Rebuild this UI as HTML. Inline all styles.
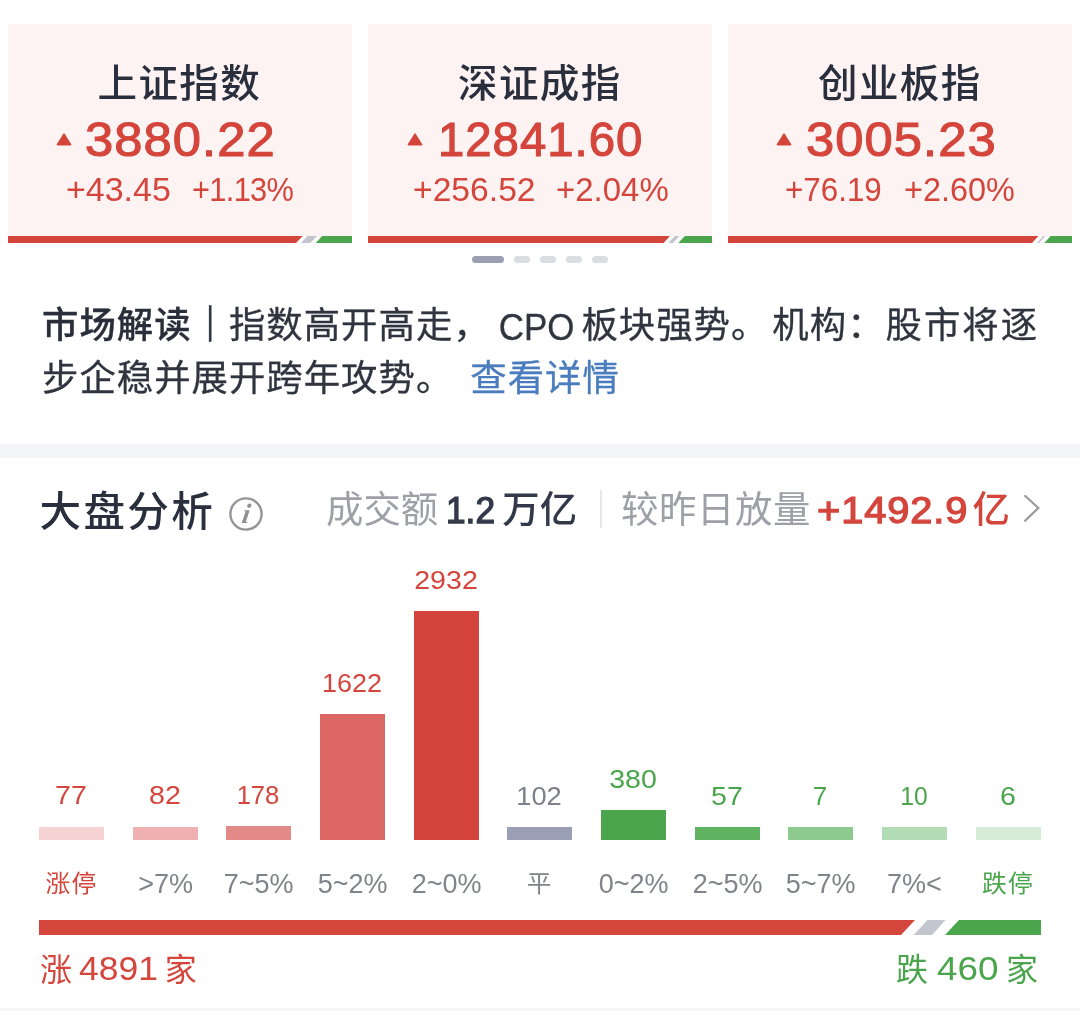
<!DOCTYPE html>
<html lang="zh-CN"><head><meta charset="utf-8"><title>大盘分析</title>
<style>
html,body{margin:0;padding:0;background:#fff;}
body{width:1080px;height:1011px;position:relative;overflow:hidden;font-family:"Liberation Sans","Noto Sans CJK SC",sans-serif;}
div,svg{position:absolute;white-space:nowrap;line-height:1;}
.card{top:24px;width:344px;height:219px;background:#fef3f3;}
.ct{top:60px;font-size:39.6px;letter-spacing:1.3px;font-weight:500;color:#2a2f3d;top:36.3px;font-family:"Noto Sans CJK SC",sans-serif;transform:scaleY(0.965);transform-origin:50% 60%;}
.tri{top:108.5px;}
.cn{top:91px;font-size:48.5px;color:#d4453c;-webkit-text-stroke:1.1px #d4453c;transform-origin:0 50%;}
.cc{top:150.4px;font-size:32.4px;color:#d4453c;transform-origin:0 50%;}
.cbar{left:0;top:212px;width:344px;height:7px;background:#fff;}
.cbar svg{left:0;top:0;}
.dot{top:255.5px;height:7.5px;border-radius:4px;background:#dcdde2;width:16px;}
.p1,.p2{left:42px;font-size:36.4px;letter-spacing:1px;-webkit-text-stroke:0.3px #30343f;color:#30343f;font-family:"Liberation Sans","Noto Sans CJK SC",sans-serif;}
.p1{top:307.3px;} .p2{top:360.6px;}
.p1 b{font-weight:500;color:#2a2e3a;}
.pbar{display:inline-block;font-weight:500;transform:translate(0.4px,-0.6px) scaleY(0.97);transform-origin:50% 55%;-webkit-text-stroke:1px #30343f;}
.lat{display:inline-block;margin:0 4.2px 0 5.5px;font-size:37.4px;letter-spacing:0;transform:translateY(1.7px) scaleX(0.935);}
.link{color:#4a7dbe;-webkit-text-stroke:0.3px #4a7dbe;margin-left:17px;}
.band{left:0;top:444px;width:1080px;height:14px;background:#f4f5f8;}
.band2{left:0;top:1008px;width:1080px;height:3px;background:#f4f5f8;}
.h1{left:39.5px;top:487.8px;transform:scaleY(0.975);transform-origin:50% 60%;font-size:41.6px;letter-spacing:2.3px;font-weight:500;color:#2a2f3d;font-family:"Noto Sans CJK SC",sans-serif;}
.hs{top:492px;font-size:37.4px;color:#9ea0a8;}
.hb{color:#33384a;font-weight:500;}
.hr{color:#d4453c;font-weight:500;}
.num{font-family:"Liberation Sans",sans-serif;font-weight:400;font-size:36.2px;display:inline-block;transform-origin:0 50%;-webkit-text-stroke:1.25px currentColor;}
.vdiv{left:600px;top:490px;width:2px;height:38px;background:#e6e7ea;}
.bar{width:65.2px;}
.bv{transform:translateX(-50%) scaleX(1.1);font-size:26px;}
.o{margin:0 -0.075em 0 -0.03em;}
.cn .o{margin:0 -0.06em 0 -0.03em;}
.bl{transform:translateX(-50%);font-size:27px;top:871.2px;}
.bl.cj{transform:translateX(-50%) scaleY(0.95);font-size:24.8px;letter-spacing:1.2px;margin-left:-0.2px;top:872px;}
.ft{top:953.3px;font-size:32px;}
.fd{font-size:33.5px;position:relative;top:-1.5px;display:inline-block;transform-origin:0 50%;}
</style></head><body>

<div class="card" style="left:8px">
  <div class="ct" id="t1" style="left:89.5px">上证指数</div>
  <svg class="tri" id="tri1" style="left:47.5px" width="16" height="13" viewBox="0 0 16 13"><path d="M8 1.2 L14.6 11.6 L1.4 11.6 Z" fill="#d4453c" stroke="#d4453c" stroke-width="1.6" stroke-linejoin="round"/></svg>
  <div class="cn" id="n1" style="left:77.3px;letter-spacing:1.0px;transform:scaleX(1.046)">3880.22</div>
  <div class="cc" id="ca1" style="left:58px;transform:scaleX(1.048)">+43.45</div>
  <div class="cc" id="cb1" style="left:184px;letter-spacing:-0.7px;transform:scaleX(0.95)">+1.13%</div>
  <div class="cbar"><svg width="344" height="7" viewBox="0 0 344 7"><polygon points="0,0 294.6,0 288.1,7 0,7" fill="#d4453c"/><polygon points="299.4,0 309.0,0 302.5,7 292.9,7" fill="#c3c5cf"/><polygon points="314.2,0 344,0 344,7 307.7,7" fill="#4aa54c"/></svg></div>
</div>
<div class="card" style="left:368px">
  <div class="ct" id="t2" style="left:90px">深证成指</div>
  <svg class="tri" id="tri2" style="left:39px" width="16" height="13" viewBox="0 0 16 13"><path d="M8 1.2 L14.6 11.6 L1.4 11.6 Z" fill="#d4453c" stroke="#d4453c" stroke-width="1.6" stroke-linejoin="round"/></svg>
  <div class="cn" id="n2" style="left:70.2px;letter-spacing:1.0px;transform:scaleX(0.976)">12841.60</div>
  <div class="cc" id="ca2" style="left:44.5px;transform:scaleX(1.039)">+256.52</div>
  <div class="cc" id="cb2" style="left:187.7px;letter-spacing:0px;transform:scaleX(1.018)">+2.04%</div>
  <div class="cbar"><svg width="344" height="7" viewBox="0 0 344 7"><polygon points="0,0 302,0 295.5,7 0,7" fill="#d4453c"/><polygon points="306.8,0 311.6,0 305.1,7 300.3,7" fill="#c3c5cf"/><polygon points="316.8,0 344,0 344,7 310.3,7" fill="#4aa54c"/></svg></div>
</div>
<div class="card" style="left:728px">
  <div class="ct" id="t3" style="left:90px">创业板指</div>
  <svg class="tri" id="tri3" style="left:47.5px" width="16" height="13" viewBox="0 0 16 13"><path d="M8 1.2 L14.6 11.6 L1.4 11.6 Z" fill="#d4453c" stroke="#d4453c" stroke-width="1.6" stroke-linejoin="round"/></svg>
  <div class="cn" id="n3" style="left:78.3px;letter-spacing:1.0px;transform:scaleX(1.046)">3005.23</div>
  <div class="cc" id="ca3" style="left:57px;transform:scaleX(0.968)">+76.19</div>
  <div class="cc" id="cb3" style="left:176px;letter-spacing:0px;transform:scaleX(1.001)">+2.60%</div>
  <div class="cbar"><svg width="344" height="7" viewBox="0 0 344 7"><polygon points="0,0 310.5,0 304.0,7 0,7" fill="#d4453c"/><polygon points="315.3,0 317.5,0 311.0,7 308.8,7" fill="#c3c5cf"/><polygon points="322.7,0 344,0 344,7 316.2,7" fill="#4aa54c"/></svg></div>
</div>
<div class="dot" style="left:472px;width:32px;background:#9a9eb1"></div>
<div class="dot" style="left:514px"></div><div class="dot" style="left:540px"></div><div class="dot" style="left:566px"></div><div class="dot" style="left:592px"></div>

<div class="p1" id="p1"><b id="pa">市场解读</b><span id="pbar" class="pbar">｜</span>指数高开高走，<span class="lat" id="pc">CPO</span>板块强势。<span id="pe" style="margin-left:4px">机构</span>：<span id="pf" style="margin-left:1px;letter-spacing:2px">股市将逐</span></div>
<div class="p2" id="p2">步企稳并展开跨年攻势。<span class="link" id="ph">查看详情</span></div>

<div class="band"></div>
<div class="h1" id="h1">大盘分析</div>
<svg id="info" style="left:229px;top:497px" width="35" height="35" viewBox="0 0 35 35"><circle cx="17" cy="17" r="15.6" fill="none" stroke="#949599" stroke-width="2.4"/><text x="0" y="0" transform="translate(15.8 26.2) skewX(-9)" text-anchor="middle" text-rendering="geometricPrecision" font-family="Liberation Serif, serif" font-style="italic" font-weight="bold" font-size="28" fill="#8f9094">i</text></svg>
<div class="hs" id="hs1" style="left:326px">成交额</div>
<div class="hs hb" id="hs2" style="left:446px"><span class="num" id="hs2a" style="transform:scaleX(0.975)">1.2</span><span id="hs2b" style="margin-left:6px">万亿</span></div>
<div class="vdiv"></div>
<div class="hs" id="hs3" style="left:621px;letter-spacing:0.6px">较昨日放量</div>
<div class="hs hr" id="hs4" style="left:817px"><span class="num" id="hs4a" style="letter-spacing:0.8px;transform:scaleX(1.10)">+1492.9</span><span id="hs4b" style="margin-left:18px">亿</span></div>
<svg id="chev" style="left:1020px;top:495px" width="24" height="30" viewBox="0 0 24 30"><path d="M5.3 1 L18.3 13 L5.3 25.6" fill="none" stroke="#9c9da3" stroke-width="2.3" stroke-linecap="square" stroke-linejoin="miter"/></svg>

<div class="bar" style="left:39px;top:826.7px;height:13px;background:#f6d3d3"></div>
<div class="bv" id="bv0" style="left:71.1px;top:782.1px;color:#d4453c;transform:translateX(-50%) scaleX(1.1)">77</div>
<div class="bl cj" id="bl0" style="left:71.6px;color:#d4453c">涨停</div>
<div class="bar" style="left:133px;top:826.7px;height:13px;background:#eeb0b0"></div>
<div class="bv" id="bv1" style="left:165.1px;top:782.1px;color:#d4453c;transform:translateX(-50%) scaleX(1.1)">82</div>
<div class="bl" id="bl1" style="left:165.6px;color:#808389">&gt;7%</div>
<div class="bar" style="left:226px;top:826.2px;height:13.5px;background:#e38a88"></div>
<div class="bv" id="bv2" style="left:258.1px;top:781.6px;color:#d4453c;transform:translateX(-50%) scaleX(0.985)">178</div>
<div class="bl" id="bl2" style="left:258.6px;color:#808389">7~5%</div>
<div class="bar" style="left:320px;top:714.2px;height:125.5px;background:#dc6663"></div>
<div class="bv" id="bv3" style="left:352.1px;top:669.6px;color:#d4453c;transform:translateX(-50%) scaleX(1.035)">1622</div>
<div class="bl" id="bl3" style="left:352.6px;color:#808389">5~2%</div>
<div class="bar" style="left:414px;top:611.2px;height:228.5px;background:#d3453c"></div>
<div class="bv" id="bv4" style="left:446.1px;top:566.6px;color:#d4453c;transform:translateX(-50%) scaleX(1.1)">2932</div>
<div class="bl" id="bl4" style="left:446.6px;color:#808389">2~0%</div>
<div class="bar" style="left:507.3px;top:827.2px;height:12.5px;background:#9a9fb6"></div>
<div class="bv" id="bv5" style="left:539.4px;top:782.6px;color:#7d8189;transform:translateX(-50%) scaleX(1.05)">102</div>
<div class="bl cj" id="bl5" style="left:539.9px;color:#808389">平</div>
<div class="bar" style="left:601px;top:810.2px;height:29.5px;background:#4aa54c"></div>
<div class="bv" id="bv6" style="left:633.1px;top:765.6px;color:#4aa54c;transform:translateX(-50%) scaleX(1.1)">380</div>
<div class="bl" id="bl6" style="left:633.6px;color:#808389">0~2%</div>
<div class="bar" style="left:695px;top:827.2px;height:12.5px;background:#5fb361"></div>
<div class="bv" id="bv7" style="left:727.1px;top:782.6px;color:#4aa54c;transform:translateX(-50%) scaleX(1.1)">57</div>
<div class="bl" id="bl7" style="left:727.6px;color:#808389">2~5%</div>
<div class="bar" style="left:788px;top:827.2px;height:12.5px;background:#8ccb8d"></div>
<div class="bv" id="bv8" style="left:820.1px;top:782.6px;color:#4aa54c;transform:translateX(-50%) scaleX(1.0)">7</div>
<div class="bl" id="bl8" style="left:820.6px;color:#808389">5~7%</div>
<div class="bar" style="left:881.8px;top:827.2px;height:12.5px;background:#b2dcb3"></div>
<div class="bv" id="bv9" style="left:913.9px;top:782.6px;color:#4aa54c;transform:translateX(-50%) scaleX(0.95)">10</div>
<div class="bl" id="bl9" style="left:914.4px;color:#808389">7%&lt;</div>
<div class="bar" style="left:975.7px;top:827.2px;height:12.5px;background:#d6ecd6"></div>
<div class="bv" id="bv10" style="left:1007.8000000000001px;top:782.6px;color:#4aa54c;transform:translateX(-50%) scaleX(1.1)">6</div>
<div class="bl cj" id="bl10" style="left:1008.3000000000001px;color:#4aa54c">跌停</div>

<svg style="left:39px;top:920px" width="1002" height="15" viewBox="0 0 1002 15"><polygon points="0,0 876,0 862,15 0,15" fill="#d4453c"/><polygon points="888.5,0 906.5,0 893,15 874.5,15" fill="#c3c5cf"/><polygon points="920,0 1002,0 1002,15 906,15" fill="#4aa54c"/></svg>
<div class="ft" id="ft1" style="left:40px;color:#d4453c"><span id="f1a">涨</span><span id="f1b" class="fd" style="margin:0 11.3px 0 7px;transform:scaleX(1.058)">4891</span><span id="f1c">家</span></div>
<div class="ft" id="ft2" style="left:896px;color:#4aa54c"><span id="f2a">跌</span><span id="f2b" class="fd" style="margin:0 13px 0 9px;transform:scaleX(1.1)">460</span><span id="f2c">家</span></div>
<div class="band2"></div>
</body></html>
